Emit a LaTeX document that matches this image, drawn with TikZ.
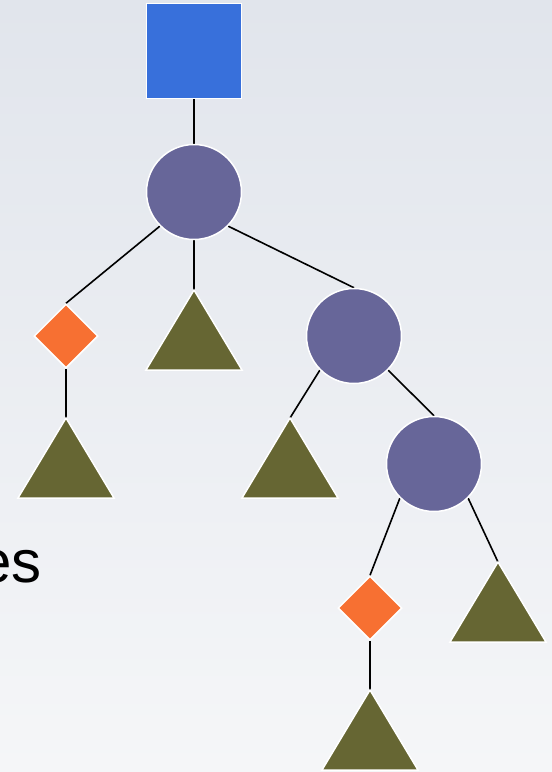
\documentclass[tikz,border=0pt]{standalone}
\usepackage{fontspec}
\setmainfont{Liberation Sans}
\usetikzlibrary{shapes.geometric}
\definecolor{bgtop}{HTML}{E1E5EC}
\definecolor{bgbot}{HTML}{F5F6F8}
\definecolor{sqblue}{HTML}{3870DB}
\definecolor{circ}{HTML}{676699}
\definecolor{dia}{HTML}{F77032}
\definecolor{tri}{HTML}{666633}
\pgfdeclarelayer{bglayer}
\pgfdeclarelayer{edgelayer}
\pgfsetlayers{bglayer,edgelayer,main}
\tikzset{
  sqnode/.style={rectangle, fill=sqblue, draw=white, line width=1.5pt, minimum size=95pt, inner sep=0pt},
  circnode/.style={circle, fill=circ, draw=white, line width=1.5pt, minimum size=95pt, inner sep=0pt},
  dianode/.style={diamond, fill=dia, draw=white, line width=1.5pt, minimum width=64pt, minimum height=64pt, inner sep=0pt, aspect=1},
  trishape/.style={fill=tri, draw=white, line width=1.5pt, line join=miter},
  edge/.style={black, line width=1.6pt},
}
\begin{document}
\begin{tikzpicture}[x=1pt, y=-1pt]
\useasboundingbox (0,0) rectangle (552,772);
\clip (0,0) rectangle (552,772);
\begin{pgfonlayer}{bglayer}
  \shade[top color=bgtop, bottom color=bgbot] (0,0) rectangle (552,772);
\end{pgfonlayer}

% text
\node[anchor=base east, inner sep=0pt, font=\fontsize{60}{72}\selectfont] (txt) at (42,582) {es};

% nodes
\node[sqnode] (sq) at (194,51) {};
\node[circnode] (c1) at (194,192) {};
\node[circnode] (c2) at (354,336) {};
\node[circnode] (c3) at (434,464) {};
\node[dianode] (d1) at (66,336) {};
\node[dianode] (d2) at (370,608) {};

% triangles (apex coordinates)
\coordinate (t1) at (194,290);
\coordinate (t2) at (66,418);
\coordinate (t3) at (290,418);
\coordinate (t4) at (498,562);
\coordinate (t5) at (370,690);
\foreach \t in {t1,t2,t3,t4,t5}{
  \path[trishape] (\t) -- ++(-48,80) -- ++(96,0) -- cycle;
}

% edges
\begin{pgfonlayer}{edgelayer}
  \draw[edge] (sq.south) -- (c1.north);
  \draw[edge] (c1.south west) -- (d1.north);
  \draw[edge] (c1.south) -- (t1);
  \draw[edge] (c1.south east) -- (c2.north);
  \draw[edge] (d1.south) -- (t2);
  \draw[edge] (c2.south west) -- (t3);
  \draw[edge] (c2.south east) -- (c3.north);
  \draw[edge] (c3.south west) -- (d2.north);
  \draw[edge] (c3.south east) -- (t4);
  \draw[edge] (d2.south) -- (t5);
\end{pgfonlayer}
\end{tikzpicture}
\end{document}
